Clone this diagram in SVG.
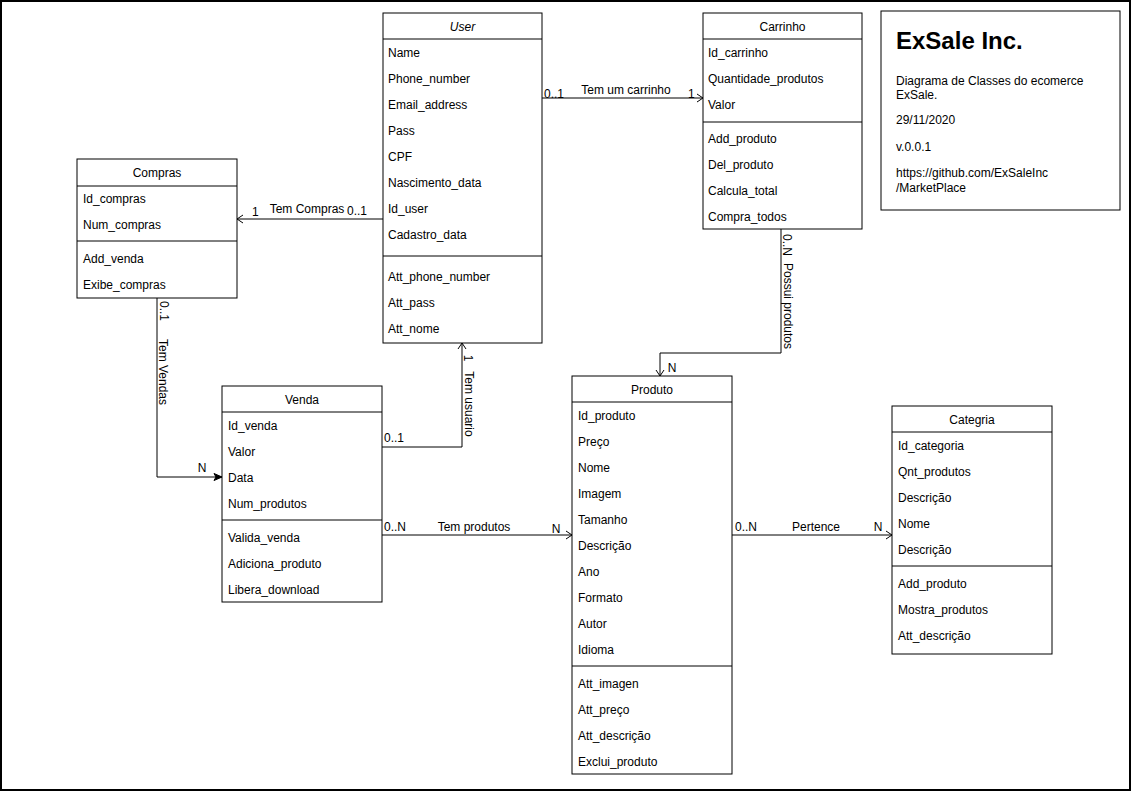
<svg xmlns="http://www.w3.org/2000/svg" width="1132" height="792" viewBox="0 0 1132 792">
<style>
text{font-family:"Liberation Sans",Arial,sans-serif;font-size:12px;fill:#000}
.box{fill:#fff;stroke:#000;stroke-width:1}
.ln{stroke:#000;stroke-width:1;fill:none}
.t{text-anchor:middle}
.c{text-anchor:middle;dominant-baseline:central}
.conn{stroke:#000;stroke-width:1;fill:none}
</style>
<defs>
<marker id="open" markerUnits="userSpaceOnUse" markerWidth="10" markerHeight="10" viewBox="0 0 10 10" refX="8" refY="5" orient="auto">
<path d="M2,1 L8,5 L2,9" fill="none" stroke="#000" stroke-width="1"/>
</marker>
<marker id="filled" markerUnits="userSpaceOnUse" markerWidth="10" markerHeight="10" viewBox="0 0 10 10" refX="9" refY="5" orient="auto">
<path d="M1,1.5 L9,5 L1,8.5 L3,5 Z" fill="#000" stroke="#000" stroke-width="1"/>
</marker>
</defs>
<rect x="0" y="0" width="1132" height="792" fill="#fff"/>
<rect x="1" y="1" width="1129" height="789" fill="none" stroke="#000" stroke-width="2"/>

<g id="connectors">
<path class="conn" d="M542,98 L703,98" marker-end="url(#open)"/>
<path class="conn" d="M383,219 L237,219" marker-end="url(#open)"/>
<path class="conn" d="M157,298 L157,477 L222,477" marker-end="url(#filled)"/>
<path class="conn" d="M382,447 L462,447 L462,343" marker-end="url(#open)"/>
<path class="conn" d="M382,535 L572,535" marker-end="url(#open)"/>
<path class="conn" d="M732,535 L892,535" marker-end="url(#open)"/>
<path class="conn" d="M781,229 L781,353 L660,353 L660,376" marker-end="url(#open)"/>
<text x="544" y="98">0..1</text>
<text x="626" y="94" class="t">Tem um carrinho</text>
<text x="688" y="98">1</text>
<text x="252" y="216">1</text>
<text x="307" y="213" class="t">Tem Compras</text>
<text x="347" y="215">0..1</text>
<text transform="translate(164,311) rotate(90)" class="c">0..1</text>
<text transform="translate(163,372) rotate(90)" class="c">Tem Vendas</text>
<text x="202" y="472" class="t">N</text>
<text x="384" y="442">0..1</text>
<text transform="translate(468,358) rotate(90)" class="c">1</text>
<text transform="translate(469,404) rotate(90)" class="c">Tem usuario</text>
<text x="384" y="531">0..N</text>
<text x="474" y="531" class="t">Tem produtos</text>
<text x="556" y="533" class="t">N</text>
<text x="735" y="531">0..N</text>
<text x="816" y="531" class="t">Pertence</text>
<text x="878" y="531" class="t">N</text>
<text transform="translate(787,245) rotate(90)" class="c">0..N</text>
<text transform="translate(788,306) rotate(90)" class="c">Possui produtos</text>
<text x="672" y="372" class="t">N</text>
</g>

<g id="user">
<rect class="box" x="383" y="13" width="159" height="330"/>
<path class="ln" d="M383,39 H542 M383,256 H542"/>
<text x="462.5" y="30.5" class="t" font-style="italic">User</text>
<text x="388" y="57">Name</text>
<text x="388" y="83">Phone_number</text>
<text x="388" y="109">Email_address</text>
<text x="388" y="135">Pass</text>
<text x="388" y="161">CPF</text>
<text x="388" y="187">Nascimento_data</text>
<text x="388" y="213">Id_user</text>
<text x="388" y="239">Cadastro_data</text>
<text x="388" y="281">Att_phone_number</text>
<text x="388" y="307">Att_pass</text>
<text x="388" y="333">Att_nome</text>
</g>

<g id="carrinho">
<rect class="box" x="703" y="13" width="159" height="216"/>
<path class="ln" d="M703,39 H862 M703,122 H862"/>
<text x="782.5" y="30.5" class="t">Carrinho</text>
<text x="708" y="57">Id_carrinho</text>
<text x="708" y="83">Quantidade_produtos</text>
<text x="708" y="109">Valor</text>
<text x="708" y="143">Add_produto</text>
<text x="708" y="169">Del_produto</text>
<text x="708" y="195">Calcula_total</text>
<text x="708" y="221">Compra_todos</text>
</g>

<g id="info">
<rect class="box" x="881" y="11" width="239" height="199"/>
<text x="896" y="49" font-weight="bold" style="font-size:24px">ExSale Inc.</text>
<text x="896" y="84.5">Diagrama de Classes do ecomerce</text>
<text x="896" y="98.5">ExSale.</text>
<text x="896" y="123.5">29/11/2020</text>
<text x="896" y="151">v.0.0.1</text>
<text x="896" y="177">https://github.com/ExSaleInc</text>
<text x="896" y="191.5">/MarketPlace</text>
</g>

<g id="compras">
<rect class="box" x="77" y="159" width="160" height="139"/>
<path class="ln" d="M77,186 H237 M77,241 H237"/>
<text x="157" y="177" class="t">Compras</text>
<text x="83" y="203">Id_compras</text>
<text x="83" y="229">Num_compras</text>
<text x="83" y="263">Add_venda</text>
<text x="83" y="289">Exibe_compras</text>
</g>

<g id="venda">
<rect class="box" x="222" y="386" width="160" height="216"/>
<path class="ln" d="M222,412 H382 M222,520 H382"/>
<text x="302" y="404" class="t">Venda</text>
<text x="228" y="430">Id_venda</text>
<text x="228" y="456">Valor</text>
<text x="228" y="482">Data</text>
<text x="228" y="508">Num_produtos</text>
<text x="228" y="542">Valida_venda</text>
<text x="228" y="568">Adiciona_produto</text>
<text x="228" y="594">Libera_download</text>
</g>

<g id="produto">
<rect class="box" x="572" y="376" width="160" height="398"/>
<path class="ln" d="M572,402 H732 M572,666 H732"/>
<text x="652" y="394" class="t">Produto</text>
<text x="578" y="420">Id_produto</text>
<text x="578" y="446">Preço</text>
<text x="578" y="472">Nome</text>
<text x="578" y="498">Imagem</text>
<text x="578" y="524">Tamanho</text>
<text x="578" y="550">Descrição</text>
<text x="578" y="576">Ano</text>
<text x="578" y="602">Formato</text>
<text x="578" y="628">Autor</text>
<text x="578" y="654">Idioma</text>
<text x="578" y="688">Att_imagen</text>
<text x="578" y="714">Att_preço</text>
<text x="578" y="740">Att_descrição</text>
<text x="578" y="766">Exclui_produto</text>
</g>

<g id="categria">
<rect class="box" x="892" y="406" width="160" height="248"/>
<path class="ln" d="M892,432 H1052 M892,566 H1052"/>
<text x="972" y="424" class="t">Categria</text>
<text x="898" y="450">Id_categoria</text>
<text x="898" y="476">Qnt_produtos</text>
<text x="898" y="502">Descrição</text>
<text x="898" y="528">Nome</text>
<text x="898" y="554">Descrição</text>
<text x="898" y="588">Add_produto</text>
<text x="898" y="614">Mostra_produtos</text>
<text x="898" y="640">Att_descrição</text>
</g>
</svg>
